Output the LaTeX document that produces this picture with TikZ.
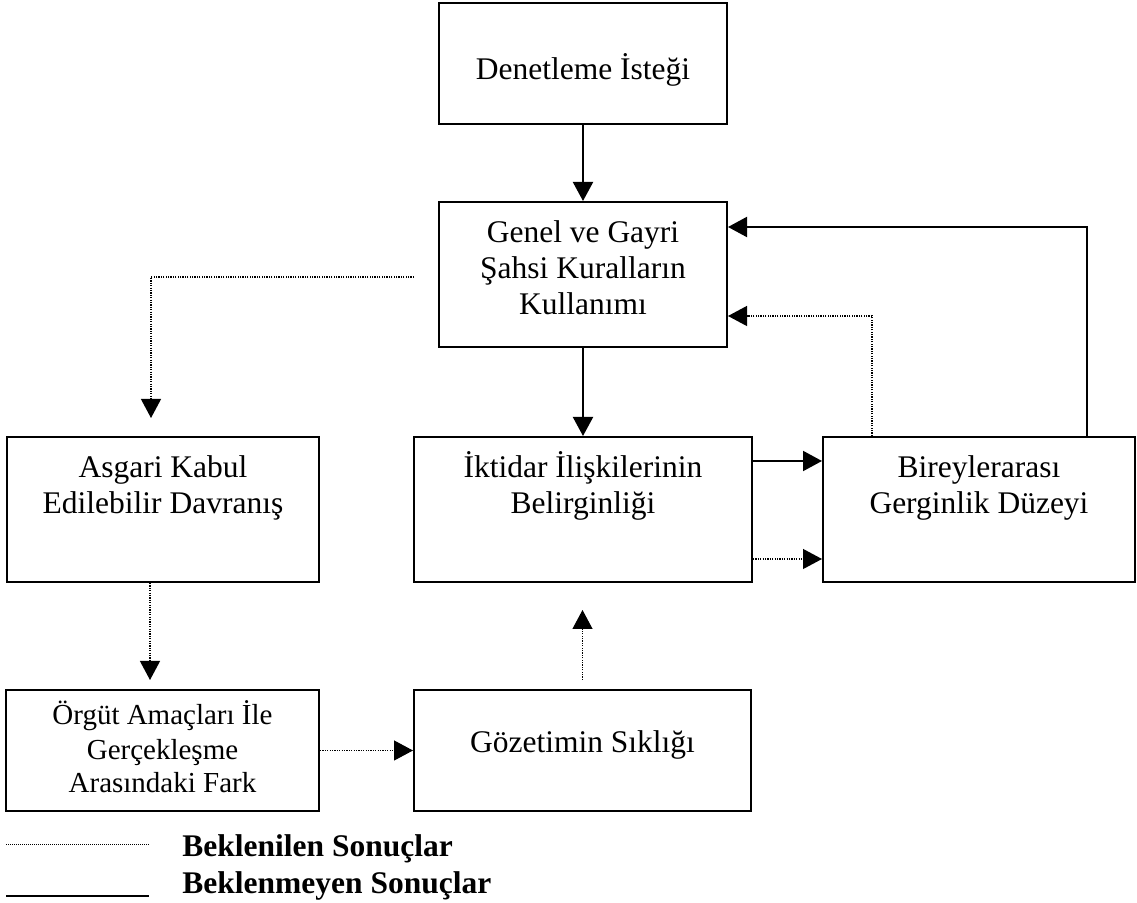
\documentclass[tikz,border=0pt]{standalone}
\usepackage{fontspec}
\setmainfont{Liberation Serif}
\usepackage{tikz}
\usetikzlibrary{arrows.meta,positioning}

\newcommand{\yazitipi}{\fontsize{15.75}{18}\selectfont}

\begin{document}
\begin{tikzpicture}[x=0.5pt,y=-0.5pt,font=\yazitipi,
		kutu/.style={draw,line width=1pt,inner sep=0pt},
		yazi/.style={inner sep=0pt,align=center},
		duz/.style={line width=1pt,-{Triangle[length=9.5pt,width=10pt]}},
		nokta/.style={line width=0.6pt,dash pattern=on 0.6pt off 0.6pt,-{Triangle[length=9.5pt,width=10pt]}}]
		\useasboundingbox (0,0) rectangle (1137,903);
		
		% kutular
		\node[kutu,minimum width=144pt,minimum height=60.5pt] (denetleme) at (583,63.5) {};
		\node[kutu,minimum width=144pt,minimum height=72.5pt] (kurallar) at (583,274.5) {};
		\node[kutu,minimum width=156pt,minimum height=72.5pt] (asgari) at (163,509.5) {};
		\node[kutu,minimum width=169pt,minimum height=72.5pt] (iktidar) at (583,509.5) {};
		\node[kutu,minimum width=156pt,minimum height=72.5pt] (gerginlik) at (979,509.5) {};
		\node[kutu,minimum width=156.5pt,minimum height=60.5pt] (fark) at (162.5,750.5) {};
		\node[kutu,minimum width=168.5pt,minimum height=60.5pt] (gozetim) at (582.5,750.5) {};
		
		% yazilar
		\node[yazi,anchor=base] (denetlemeyazi) at ([yshift=-8.25pt]denetleme.center) {Denetleme İsteği};
		\node[yazi,anchor=base] (kurallaryazi) at ([yshift=-20.25pt]kurallar.center) {Genel ve Gayri\\Şahsi Kuralların\\Kullanımı};
		\node[yazi,anchor=base] (asgariyazi) at ([yshift=-2.25pt]asgari.center) {Asgari Kabul\\Edilebilir Davranış};
		\node[yazi,anchor=base] (iktidaryazi) at ([yshift=-2.25pt]iktidar.center) {İktidar İlişkilerinin\\Belirginliği};
		\node[yazi,anchor=base] (gerginlikyazi) at ([yshift=-2pt]gerginlik.center) {Bireylerarası\\Gerginlik Düzeyi};
		\node[yazi,anchor=base,font=\fontsize{14.5}{17}\selectfont] (farkyazi) at ([yshift=-21.25pt]fark.center) {Örgüt Amaçları İle\\Gerçekleşme\\Arasındaki Fark};
		\node[yazi,anchor=base] (gozetimyazi) at ([yshift=-1.25pt]gozetim.center) {Gözetimin Sıklığı};
		
		% oklar
		\draw[duz] (denetleme) -- (kurallar);
		\draw[duz] (kurallar) -- (iktidar);
		\draw[duz] ([yshift=24.25pt]iktidar.east) -- ([yshift=24.25pt]gerginlik.west);
		\draw[duz] ([xshift=54pt]gerginlik.north) |- ([yshift=23.75pt]kurallar.east);
		\draw[nokta] ([xshift=-53.5pt]gerginlik.north) |- ([yshift=-20.75pt]kurallar.east);
		\draw[nokta] ([yshift=-24.75pt]iktidar.east) -- ([yshift=-24.75pt]gerginlik.west);
		\draw[nokta,shorten <=12pt,shorten >=9pt] ([yshift=-1.25pt]kurallar.west) -| ([xshift=-6pt]asgari.north);
		\draw[nokta,shorten >=4.5pt] ([xshift=-6.5pt]asgari.south) -- ([xshift=-6.25pt]fark.north);
		\draw[nokta] (fark) -- (gozetim);
		\draw[nokta,shorten <=4.5pt,shorten >=13.5pt] (gozetim.north) -- (gozetim.north |- iktidar.south);
		
		% aciklama
		\draw[line width=0.4pt,dash pattern=on 0.5pt off 0.5pt] (6,844) -- (149,844);
		\draw[line width=0.8pt] (6,896) -- (149,896);
		\node[anchor=base west,inner sep=0pt,font={\yazitipi\bfseries}] (beklenilen) at (182,857) {Beklenilen Sonuçlar};
		\node[anchor=base west,inner sep=0pt,font={\yazitipi\bfseries}] (beklenmeyen) at (182,893) {Beklenmeyen Sonuçlar};
	\end{tikzpicture}
\end{document}
